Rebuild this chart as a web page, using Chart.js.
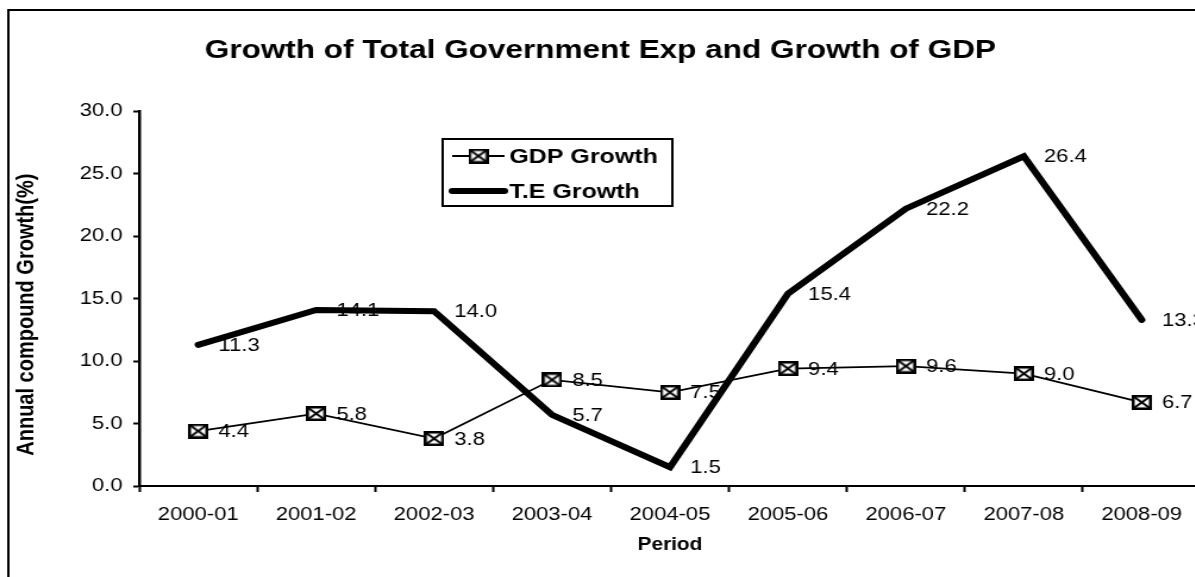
<!DOCTYPE html>
<html>
<head>
<meta charset="utf-8">
<title>Growth of Total Government Exp and Growth of GDP</title>
<script src="https://cdn.jsdelivr.net/npm/chart.js@4.4.0/dist/chart.umd.min.js"></script>
<style>
  html, body { margin: 0; padding: 0; background: #fff; overflow: hidden; }
  /* the chart is laid out narrow and stretched sideways, like the old spreadsheet export */
  #wrap { width: 1030px; height: 577px; transform: scaleX(1.19); transform-origin: 0 0; }
</style>
</head>
<body>
<div id="wrap"><canvas id="growth-chart"></canvas></div>
<script>
const periods = ['2000-01', '2001-02', '2002-03', '2003-04', '2004-05', '2005-06', '2006-07', '2007-08', '2008-09']
const gdpGrowth = [4.4, 5.8, 3.8, 8.5, 7.5, 9.4, 9.6, 9.0, 6.7]
const teGrowth = [11.3, 14.1, 14.0, 5.7, 1.5, 15.4, 22.2, 26.4, 13.3]
const yTicks = [0, 5, 10, 15, 20, 25, 30]

const FONT = '"Liberation Sans", Arial, Helvetica, sans-serif'
const Y_TITLE = 'Annual compound Growth(%)'

// square marker with an X through it
function crossBox(w, h) {
    const c = document.createElement('canvas')
    c.width = w
    c.height = h
    const g = c.getContext('2d')
    g.fillStyle = '#fff'
    g.fillRect(0, 0, w, h)
    g.strokeStyle = '#000'
    g.lineWidth = 2.5
    g.strokeRect(1.25, 1.25, w - 2.5, h - 2.5)
    g.lineWidth = 2
    g.beginPath()
    g.moveTo(2, 2); g.lineTo(w - 2, h - 2)
    g.moveTo(w - 2, 2); g.lineTo(2, h - 2)
    g.stroke()
    return c
}
const marker = crossBox(17, 15)

// white page with the frame round it, plus the rotated y title
const frame = {
    id: 'frame',
    beforeDraw(chart) {
        const ctx = chart.ctx
        ctx.save()
        ctx.fillStyle = '#fff'
        ctx.fillRect(0, 0, chart.width, chart.height)
        ctx.strokeStyle = '#000'
        ctx.lineWidth = 2
        ctx.strokeRect(7, 10, chart.width + 20, chart.height + 20)

        const area = chart.chartArea
        ctx.translate(22.5, (area.top + area.bottom) / 2 + 16)
        ctx.rotate(-Math.PI / 2)
        ctx.font = `bold 20px ${FONT}`
        ctx.fillStyle = '#000'
        ctx.textAlign = 'center'
        ctx.textBaseline = 'middle'
        ctx.fillText(Y_TITLE, 0, 0)
        ctx.restore()
    }
}

// value written to the right of every point
const valueLabels = {
    id: 'valueLabels',
    afterDatasetsDraw(chart) {
        const ctx = chart.ctx
        ctx.save()
        ctx.font = `18.5px ${FONT}`
        ctx.fillStyle = '#000'
        ctx.textBaseline = 'middle'
        ctx.textAlign = 'left'
        chart.data.datasets.forEach((ds, i) => {
            chart.getDatasetMeta(i).data.forEach((pt, j) => {
                ctx.fillText(ds.data[j].toFixed(1), pt.x + 17, pt.y + 1)
            })
        })
        ctx.restore()
    }
}

// boxed legend sitting inside the plot
const boxLegend = {
    id: 'boxLegend',
    afterDraw(chart) {
        const ctx = chart.ctx
        const x = 372, y = 139, w = 193, h = 67
        ctx.save()
        ctx.fillStyle = '#fff'
        ctx.fillRect(x, y, w, h)
        ctx.strokeStyle = '#000'
        ctx.lineWidth = 2
        ctx.strokeRect(x, y, w, h)

        ctx.font = `bold 21px ${FONT}`
        ctx.textBaseline = 'middle'
        ctx.fillStyle = '#000'
        chart.data.datasets.forEach((ds, i) => {
            const rowY = y + 17 + i * 35
            ctx.beginPath()
            ctx.lineWidth = ds.borderWidth
            ctx.lineCap = ds.borderCapStyle || 'butt'
            ctx.moveTo(x + 8, rowY)
            ctx.lineTo(x + 52, rowY)
            ctx.stroke()
            if (ds.pointStyle instanceof HTMLCanvasElement) {
                ctx.drawImage(ds.pointStyle, x + 30 - ds.pointStyle.width / 2, rowY - ds.pointStyle.height / 2)
            }
            ctx.fillText(ds.label, x + 56, rowY + 1)
        })
        ctx.restore()
    }
}

new Chart(document.getElementById('growth-chart'), {
    type: 'line',
    data: {
        labels: periods,
        datasets: [{
            label: 'GDP Growth',
            data: gdpGrowth,
            borderColor: '#000',
            borderWidth: 1.8,
            pointStyle: marker,
            pointRadius: 8,
            tension: 0
        }, {
            label: 'T.E Growth',
            data: teGrowth,
            borderColor: '#000',
            borderWidth: 6,
            borderCapStyle: 'round',
            borderJoinStyle: 'miter',
            pointRadius: 0,
            tension: 0
        }]
    },
    options: {
        animation: false,
        responsive: true,
        maintainAspectRatio: false,
        devicePixelRatio: 1,
        layout: { padding: { left: 0, right: 21, top: 0, bottom: 0 } },
        plugins: {
            legend: { display: false },
            tooltip: { enabled: false },
            title: {
                display: true,
                text: 'Growth of Total Government Exp and Growth of GDP',
                color: '#000',
                font: { family: FONT, size: 26.5, weight: 'bold' },
                padding: { top: 35, bottom: 44.5 }
            }
        },
        scales: {
            x: {
                offset: true,
                grid: { offset: true, drawOnChartArea: false, tickLength: 6, tickWidth: 2, tickColor: '#000' },
                border: { color: '#000', width: 2 },
                ticks: { color: '#000', font: { family: FONT, size: 18.5 }, padding: 12, maxRotation: 0, autoSkip: false },
                title: {
                    display: true,
                    text: 'Period',
                    color: '#000',
                    font: { family: FONT, size: 17.5, weight: 'bold' },
                    padding: { top: 0, bottom: 21 }
                },
                afterFit: scale => { scale.height = 91 }
            },
            y: {
                min: 0,
                max: 30,
                afterBuildTicks: axis => { axis.ticks = yTicks.map(v => ({ value: v })) },
                grid: { drawOnChartArea: false, tickLength: 5, tickWidth: 2, tickColor: '#000' },
                border: { color: '#000', width: 2.5 },
                ticks: { color: '#000', font: { family: FONT, size: 18.5 }, padding: 9, callback: v => v.toFixed(1) },
                afterFit: scale => { scale.width = 117 }
            }
        }
    },
    plugins: [frame, valueLabels, boxLegend]
})
</script>
</body>
</html>
